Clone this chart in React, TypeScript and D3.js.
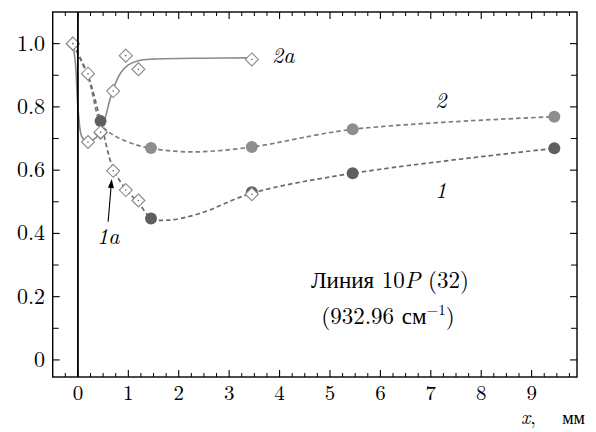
import React from "react";
import * as d3 from "d3";

// ---- data ----
const X_TICKS = [0, 1, 2, 3, 4, 5, 6, 7, 8, 9];
const X_TICK_LABELS = ["0", "1", "2", "3", "4", "5", "6", "7", "8", "9"];
const Y_TICKS = [0, 0.2, 0.4, 0.6, 0.8, 1.0];
const Y_TICK_LABELS = ["0", "0.2", "0.4", "0.6", "0.8", "1.0"];

// series 1a / 2a : open diamonds
const S1A_X = [-0.1, 0.2, 0.45, 0.7, 0.95, 1.2, 3.45];
const S1A_Y = [1.0, 0.905, 0.72, 0.598, 0.537, 0.504, 0.524];
const S2A_X = [-0.1, 0.2, 0.45, 0.7, 0.95, 1.2, 3.45];
const S2A_Y = [1.0, 0.689, 0.718, 0.85, 0.962, 0.919, 0.95];

// series 1 / 2 : filled circles
const S1_X = [0.45, 1.45, 3.45, 5.45, 9.45];
const S1_Y = [0.755, 0.447, 0.53, 0.59, 0.669];
const S2_X = [1.45, 3.45, 5.45, 9.45];
const S2_Y = [0.67, 0.673, 0.729, 0.769];

// fitted curves
const C1_X = [-0.1, 0.2, 0.45, 0.7, 0.95, 1.2, 1.47, 1.8, 2.42, 3.45, 5.45, 9.45];
const C1_Y = [1.0, 0.9, 0.755, 0.605, 0.54, 0.497, 0.447, 0.442, 0.463, 0.527, 0.59, 0.669];
const C2_X = [-0.1, 0.2, 0.45, 0.6, 0.77, 1.17, 1.45, 1.9, 2.42, 3.45, 5.45, 9.45];
const C2_Y = [1.0, 0.895, 0.745, 0.722, 0.705, 0.679, 0.669, 0.66, 0.658, 0.673, 0.729, 0.769];
const C2A_X = [-0.1, -0.05, 0.01, 0.08, 0.18, 0.36, 0.47, 0.55, 0.63, 0.72, 0.85, 1.0, 1.2, 1.5, 2.5, 3.45];
const C2A_Y = [1.0, 0.94, 0.78, 0.705, 0.69, 0.703, 0.73, 0.77, 0.82, 0.865, 0.908, 0.933, 0.946, 0.951, 0.954, 0.955];

const W = 596;
const H = 432;
const FONT = "Latin Modern Roman, Liberation Serif, serif";

export default function App() {
  const x = d3.scaleLinear().domain([-0.5, 9.9]).range([52.7, 577]);
  const y = d3.scaleLinear().domain([-0.054, 1.1]).range([377, 12]);
  const [x0, x1] = x.range();
  const [yb, yt] = y.range();

  const line = d3
    .line<[number, number]>()
    .x((d) => x(d[0]))
    .y((d) => y(d[1]))
    .curve(d3.curveCatmullRom.alpha(0.5));

  const zip = (a: number[], b: number[]) => a.map((v, i) => [v, b[i]] as [number, number]);

  const minorX = d3.range(-0.25, 9.9, 0.25).filter((v) => Math.abs(v - Math.round(v)) > 1e-6);
  const minorY = d3.range(0.1, 1.1, 0.2);

  const diamond = (cx: number, cy: number, key: string) => {
    const r = 6.5;
    return (
      <g key={key}>
        <path
          d={`M${cx},${cy - r}L${cx + r},${cy}L${cx},${cy + r}L${cx - r},${cy}Z`}
          fill="#fff"
          stroke="#8a8a8a"
          strokeWidth={1.1}
        />
        <circle cx={cx} cy={cy} r={0.8} fill="#555" />
      </g>
    );
  };

  const ax = (v: number) => x(v);
  const ay = (v: number) => y(v);

  // arrow for 1a
  const arrFrom: [number, number] = [0.6, 0.437];
  const arrTo: [number, number] = [0.67, 0.572];
  const fx = ax(arrFrom[0]), fy = ay(arrFrom[1]);
  const tx = ax(arrTo[0]), ty = ay(arrTo[1]);
  const ang = Math.atan2(ty - fy, tx - fx);
  const hl = 9, hw = 3;
  const bx = tx - hl * Math.cos(ang), by = ty - hl * Math.sin(ang);
  const head = `M${tx},${ty}L${bx + hw * Math.sin(ang)},${by - hw * Math.cos(ang)}L${bx - hw * Math.sin(ang)},${by + hw * Math.cos(ang)}Z`;

  const txt = { fontFamily: FONT } as React.CSSProperties;

  return (
    <svg
      width={W}
      height={H}
      style={{ position: "absolute", left: 0, top: 0, background: "#fff", fontFamily: FONT }}
    >
      <rect x={0} y={0} width={W} height={H} fill="#fff" />

      {/* curves */}
      <path d={line(zip(C2A_X, C2A_Y)) || ""} fill="none" stroke="#8a8a8a" strokeWidth={1.6} />
      <path d={line(zip(C2_X, C2_Y)) || ""} fill="none" stroke="#7d7d7d" strokeWidth={1.7} strokeDasharray="4.5,3" />
      <path d={line(zip(C1_X, C1_Y)) || ""} fill="none" stroke="#6a6a6a" strokeWidth={1.7} strokeDasharray="4.5,3" />

      {/* circles */}
      {S2_X.map((v, i) => (
        <circle key={"c2" + i} cx={x(v)} cy={y(S2_Y[i])} r={6} fill="#8e8e8e" />
      ))}
      {S1_X.map((v, i) => (
        <circle key={"c1" + i} cx={x(v)} cy={y(S1_Y[i])} r={6} fill="#5f5f5f" />
      ))}

      {/* diamonds */}
      {S2A_X.map((v, i) => diamond(x(v), y(S2A_Y[i]), "d2" + i))}
      {S1A_X.map((v, i) => diamond(x(v), y(S1A_Y[i]), "d1" + i))}

      {/* zero line */}
      <line x1={x(0)} x2={x(0)} y1={yt} y2={yb} stroke="#000" strokeWidth={1.8} />

      {/* frame */}
      <rect x={x0} y={yt} width={x1 - x0} height={yb - yt} fill="none" stroke="#000" strokeWidth={1.4} />

      {/* x ticks */}
      {X_TICKS.map((v) => (
        <g key={"xt" + v}>
          <line x1={x(v)} x2={x(v)} y1={yb} y2={yb - 7} stroke="#000" strokeWidth={1.1} />
          <line x1={x(v)} x2={x(v)} y1={yt} y2={yt + 7} stroke="#000" strokeWidth={1.1} />
        </g>
      ))}
      {minorX.map((v, i) => (
        <g key={"xm" + i}>
          <line x1={x(v)} x2={x(v)} y1={yb} y2={yb - 4} stroke="#000" strokeWidth={1} />
          <line x1={x(v)} x2={x(v)} y1={yt} y2={yt + 4} stroke="#000" strokeWidth={1} />
        </g>
      ))}
      {/* y ticks */}
      {Y_TICKS.map((v) => (
        <g key={"yt" + v}>
          <line x1={x0} x2={x0 + 7} y1={y(v)} y2={y(v)} stroke="#000" strokeWidth={1.1} />
          <line x1={x1} x2={x1 - 7} y1={y(v)} y2={y(v)} stroke="#000" strokeWidth={1.1} />
        </g>
      ))}
      {minorY.map((v, i) => (
        <g key={"ym" + i}>
          <line x1={x0} x2={x0 + 6} y1={y(v)} y2={y(v)} stroke="#000" strokeWidth={1} />
          <line x1={x1} x2={x1 - 6} y1={y(v)} y2={y(v)} stroke="#000" strokeWidth={1} />
        </g>
      ))}

      {/* tick labels */}
      {X_TICKS.map((v, i) => (
        <text key={"xl" + v} x={x(v)} y={400} textAnchor="middle" fontSize={21} style={txt}>
          {X_TICK_LABELS[i]}
        </text>
      ))}
      {Y_TICKS.map((v, i) => (
        <text key={"yl" + v} x={45} y={y(v) + 7} textAnchor="end" fontSize={22} style={txt}>
          {Y_TICK_LABELS[i]}
        </text>
      ))}

      {/* axis title */}
      <text x={521} y={424} fontSize={20} style={txt}>
        <tspan fontStyle="italic">x</tspan>
        <tspan>,</tspan>
      </text>
      <text x={585} y={424} fontSize={18} textAnchor="end" style={txt}>мм</text>

      {/* series labels */}
      <text x={ax(3.85)} y={ay(0.94)} fontSize={22} fontStyle="italic" style={txt}>2a</text>
      <text x={ax(7.2)} y={ay(0.796)} fontSize={22} fontStyle="italic" textAnchor="middle" style={txt}>2</text>
      <text x={ax(7.2)} y={ay(0.512)} fontSize={22} fontStyle="italic" textAnchor="middle" style={txt}>1</text>
      <text x={ax(0.6)} y={ay(0.366)} fontSize={22} fontStyle="italic" textAnchor="middle" style={txt}>1a</text>

      {/* arrow */}
      <line x1={fx} y1={fy} x2={bx} y2={by} stroke="#000" strokeWidth={1.1} />
      <path d={head} fill="#000" />

      {/* annotation */}
      <text x={ax(6.19)} y={ay(0.227)} fontSize={23} textAnchor="middle" style={txt}>
        <tspan>Линия 10</tspan>
        <tspan fontStyle="italic">P</tspan>
        <tspan> (32)</tspan>
      </text>
      <text x={ax(6.15)} y={ay(0.112)} fontSize={23} textAnchor="middle" style={txt}>
        <tspan>(932.96 см</tspan>
        <tspan fontSize={15} dy={-9}>−1</tspan>
        <tspan dy={9}>)</tspan>
      </text>
    </svg>
  );
}
